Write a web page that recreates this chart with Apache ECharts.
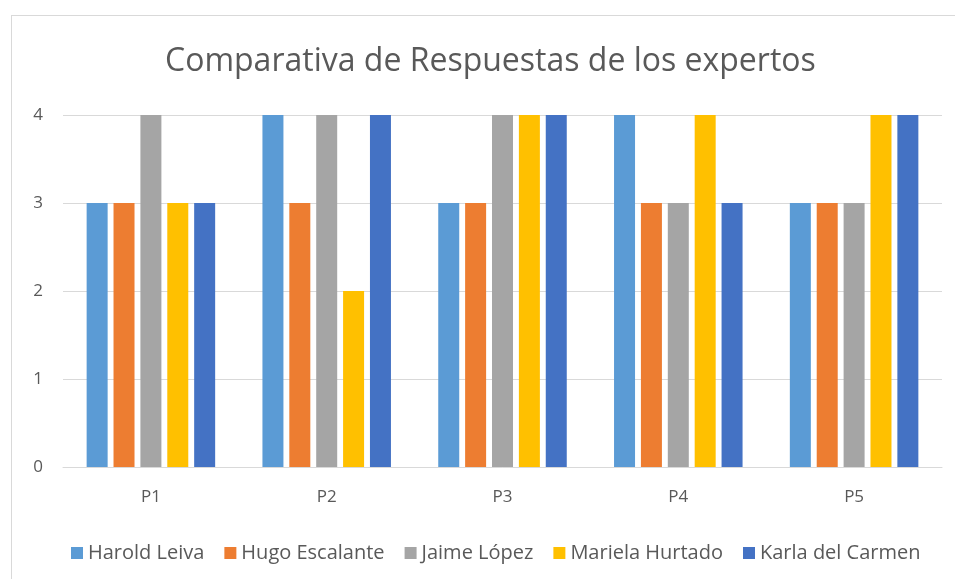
<!DOCTYPE html>
<html>
<head>
<meta charset="utf-8">
<script src="https://cdn.jsdelivr.net/npm/echarts@6/dist/echarts.min.js"></script>
<style>
  html, body { margin: 0; padding: 0; background: #fff; }
  #chart { position: absolute; left: 0; top: 0; width: 955px; height: 579px; }
  #frame { position: absolute; left: 11px; top: 15px; right: 0; bottom: 0;
           border-left: 1px solid #d9d9d9; border-top: 1px solid #d9d9d9; }
</style>
</head>
<body>
<div id="frame"></div>
<div id="chart"></div>
<script>
// datos
const preguntas = ['P1', 'P2', 'P3', 'P4', 'P5'];
const expertos = ['Harold Leiva', 'Hugo Escalante', 'Jaime López', 'Mariela Hurtado', 'Karla del Carmen'];
const harold = [3, 4, 3, 4, 3];
const hugo = [3, 3, 3, 3, 3];
const jaime = [4, 4, 4, 3, 3];
const mariela = [3, 2, 4, 4, 4];
const karla = [3, 4, 4, 3, 4];
const colores = ['#5B9BD5', '#ED7D31', '#A5A5A5', '#FFC000', '#4472C4'];

const valores = [harold, hugo, jaime, mariela, karla];
const fuente = 'Open Sans, Liberation Sans, sans-serif';

const chart = echarts.init(document.getElementById('chart'));
chart.setOption({
  animation: false,
  title: {
    text: 'Comparativa de Respuestas de los expertos',
    left: 160,
    top: 41,
    textStyle: { color: '#595959', fontSize: 32, fontWeight: 'normal', fontFamily: fuente }
  },
  legend: {
    bottom: 11,
    left: 66,
    itemWidth: 12,
    itemHeight: 12,
    itemGap: 20,
    icon: 'rect',
    textStyle: { color: '#595959', fontSize: 20, fontFamily: fuente },
    data: expertos
  },
  grid: { left: 63, right: 13, top: 115, bottom: 112 },
  xAxis: {
    type: 'category',
    data: preguntas,
    axisLine: { lineStyle: { color: '#d9d9d9' } },
    axisTick: { show: false },
    axisLabel: { color: '#595959', fontSize: 17, fontFamily: fuente, margin: 22 }
  },
  yAxis: {
    type: 'value',
    min: 0,
    max: 4,
    interval: 1,
    axisLine: { show: false },
    axisTick: { show: false },
    splitLine: { lineStyle: { color: '#d9d9d9' } },
    axisLabel: { color: '#595959', fontSize: 17, fontFamily: fuente, margin: 20 }
  },
  series: expertos.map((nombre, i) => ({
    name: nombre,
    type: 'bar',
    data: valores[i],
    barWidth: 21,
    barGap: '28%',
    itemStyle: { color: colores[i] }
  }))
});
</script>
</body>
</html>
